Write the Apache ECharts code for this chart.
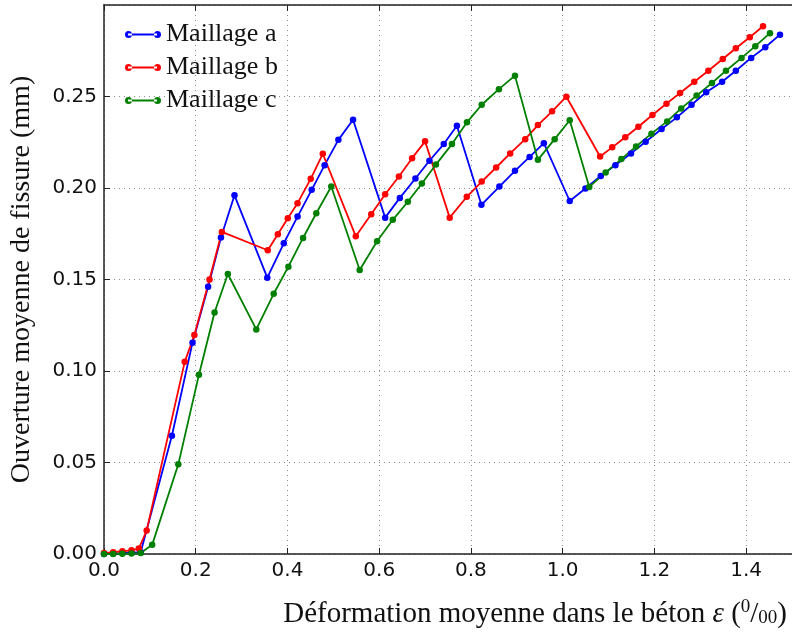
<!DOCTYPE html>
<html>
<head>
<meta charset="utf-8">
<script src="https://cdn.jsdelivr.net/npm/echarts@6/dist/echarts.min.js"></script>
<style>
  html, body { margin: 0; padding: 0; background: #fff; }
  #chart { width: 792px; height: 642px; }
</style>
</head>
<body>
<div id="chart"></div>
<script>
// deformation (x, per mille) / crack opening (y, mm) pairs
const maillageA = [
  [0, 0], [0.02, 0.0003], [0.04, 0.0005], [0.06, 0.0008], [0.08, 0.001],
  [0.148, 0.0646], [0.193, 0.1155], [0.227, 0.146], [0.255, 0.173], [0.2845, 0.196],
  [0.356, 0.151], [0.392, 0.1698], [0.422, 0.1844], [0.4528, 0.199], [0.481, 0.2125],
  [0.511, 0.2263], [0.543, 0.2373], [0.613, 0.1838], [0.645, 0.1946], [0.679, 0.2052],
  [0.7095, 0.2149], [0.7408, 0.224], [0.7694, 0.234], [0.8228, 0.1908], [0.862, 0.2008],
  [0.896, 0.2094], [0.928, 0.217], [0.959, 0.2245], [1.0154, 0.1929], [1.0496, 0.1997],
  [1.083, 0.2066], [1.115, 0.2125], [1.149, 0.2189], [1.181, 0.2253], [1.2157, 0.2322],
  [1.249, 0.2386], [1.281, 0.2455], [1.313, 0.2523], [1.3476, 0.2581], [1.3775, 0.2641],
  [1.411, 0.2711], [1.4417, 0.2769], [1.4738, 0.2838]
]
const maillageB = [
  [0, 0.0005], [0.02, 0.001], [0.04, 0.0015], [0.06, 0.002], [0.076, 0.003],
  [0.093, 0.0128], [0.176, 0.105], [0.197, 0.1197], [0.23, 0.15], [0.257, 0.176],
  [0.357, 0.166], [0.379, 0.1747], [0.4007, 0.1835], [0.422, 0.1917], [0.4507, 0.205],
  [0.477, 0.2187], [0.549, 0.1736], [0.5826, 0.1857], [0.613, 0.1966], [0.643, 0.2063],
  [0.6717, 0.2163], [0.7, 0.2255], [0.7537, 0.1838], [0.791, 0.1952], [0.8235, 0.2035],
  [0.855, 0.2112], [0.8856, 0.2189], [0.9183, 0.2267], [0.946, 0.2344], [0.977, 0.2419],
  [1.008, 0.2499], [1.0816, 0.2172], [1.108, 0.2222], [1.1365, 0.2277], [1.165, 0.2335],
  [1.1957, 0.2399], [1.2263, 0.2461], [1.256, 0.2519], [1.287, 0.2581], [1.3176, 0.2641],
  [1.349, 0.2705], [1.3775, 0.2764], [1.408, 0.2824], [1.4368, 0.2884]
]
const maillageC = [
  [0, 0], [0.02, 0], [0.04, 0.0002], [0.06, 0.0003], [0.08, 0.0005],
  [0.105, 0.005], [0.162, 0.049], [0.207, 0.098], [0.241, 0.132], [0.27, 0.153],
  [0.332, 0.1227], [0.37, 0.1422], [0.402, 0.157], [0.434, 0.1727], [0.4628, 0.1862],
  [0.4955, 0.2008], [0.5575, 0.1552], [0.5954, 0.1709], [0.6296, 0.1826], [0.6624, 0.1925],
  [0.693, 0.2025], [0.7237, 0.2128], [0.7586, 0.224], [0.7914, 0.2359], [0.8235, 0.2455],
  [0.861, 0.254], [0.896, 0.2614], [0.946, 0.2154], [0.9825, 0.2267], [1.0154, 0.237],
  [1.058, 0.2006], [1.0937, 0.2085], [1.128, 0.2158], [1.16, 0.2227], [1.1936, 0.2297],
  [1.2278, 0.2364], [1.2584, 0.2435], [1.292, 0.2505], [1.3255, 0.2574], [1.356, 0.2641],
  [1.39, 0.2711], [1.42, 0.2775], [1.452, 0.2846]
]
const seriesNames = ['Maillage a', 'Maillage b', 'Maillage c']
const seriesColors = ['#0000ff', '#ff0000', '#008000']
const xTicks = { min: 0, max: 1.5, step: 0.2 }
const yTicks = { min: 0, max: 0.3, step: 0.05 }

const serif = 'Liberation Serif'
const sans = 'DejaVu Sans'
// legend marker: a line with a dot at each end, like matplotlib's
const legendIcon = 'path://M0,5a3.5,3.5 0 1,0 7,0a3.5,3.5 0 1,0 -7,0z M29,5a3.5,3.5 0 1,0 7,0a3.5,3.5 0 1,0 -7,0z M3,4.1h29v1.8h-29z'

let chart = echarts.init(document.getElementById('chart'))

const gridLine = { show: true, lineStyle: { color: '#8c8c8c', type: [1, 4], width: 1 } }
const frameLine = { show: true, lineStyle: { color: '#222', width: 1.5 } }

chart.setOption({
  animation: false,
  backgroundColor: '#fff',
  color: seriesColors,
  grid: { left: 96, right: -5, top: 5, bottom: 88 },
  legend: {
    data: seriesNames,
    orient: 'vertical',
    left: 120,
    top: 16,
    icon: legendIcon,
    itemWidth: 36,
    itemHeight: 7,
    itemGap: 6,
    textStyle: { fontFamily: serif, fontSize: 26, color: '#111', lineHeight: 27 }
  },
  xAxis: [
    {
      type: 'value',
      min: xTicks.min,
      max: xTicks.max,
      interval: xTicks.step,
      axisLine: frameLine,
      axisTick: { inside: true, length: 6, lineStyle: { color: '#222' } },
      axisLabel: {
        showMaxLabel: false,
        margin: 7,
        fontFamily: sans,
        fontSize: 20,
        color: '#111',
        formatter: v => v.toFixed(1)
      },
      splitLine: gridLine,
      name: 'Déformation moyenne dans le béton {eps|ε} ({sup|0}/{sub|00})',
      nameLocation: 'end',
      nameGap: -5,
      nameTextStyle: {
        fontFamily: serif,
        fontSize: 29,
        color: '#111',
        align: 'right',
        verticalAlign: 'top',
        padding: [44, 0, 0, 0],
        rich: {
          eps: { fontFamily: serif, fontSize: 29, fontStyle: 'italic', color: '#111' },
          sup: { fontFamily: serif, fontSize: 19, color: '#111', padding: [0, 0, 13, 0] },
          sub: { fontFamily: serif, fontSize: 19, color: '#111', padding: [9, 0, 0, 0] }
        }
      }
    },
    {
      type: 'value',
      position: 'top',
      min: xTicks.min,
      max: xTicks.max,
      interval: xTicks.step,
      axisLine: frameLine,
      axisTick: { inside: true, length: 6, lineStyle: { color: '#222' } },
      axisLabel: { show: false },
      splitLine: { show: false }
    }
  ],
  yAxis: {
    type: 'value',
    min: yTicks.min,
    max: yTicks.max,
    interval: yTicks.step,
    axisLine: frameLine,
    axisTick: { inside: true, length: 6, lineStyle: { color: '#222' } },
    axisLabel: {
      showMaxLabel: false,
      margin: 7,
      fontFamily: sans,
      fontSize: 20,
      color: '#111',
      formatter: v => v.toFixed(2)
    },
    splitLine: gridLine,
    name: 'Ouverture moyenne de fissure (mm)',
    nameLocation: 'middle',
    nameGap: 68,
    nameTextStyle: { fontFamily: serif, fontSize: 28, color: '#111' }
  },
  series: [maillageA, maillageB, maillageC].map((d, i) => ({
    name: seriesNames[i],
    type: 'line',
    data: d,
    symbol: 'circle',
    symbolSize: 6.5,
    showAllSymbol: true,
    lineStyle: { width: 1.8, color: seriesColors[i] },
    itemStyle: { color: seriesColors[i] }
  }))
})
</script>
</body>
</html>
